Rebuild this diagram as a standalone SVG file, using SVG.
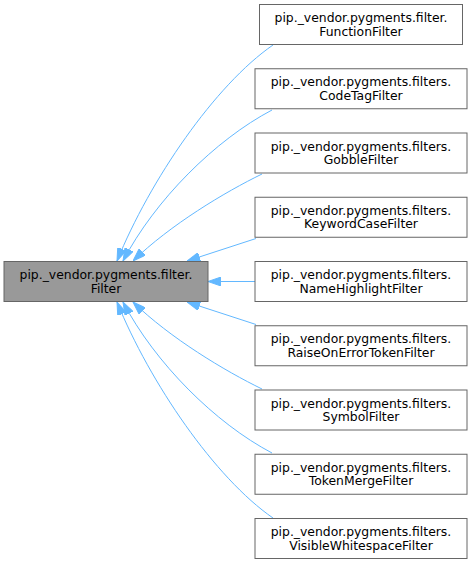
<svg xmlns="http://www.w3.org/2000/svg" width="472" height="563" viewBox="0 0 472 563">
<defs>
<style>
.node rect{fill:#ffffff;stroke:#666666;stroke-width:1}
.base rect{fill:#999999;stroke:#666666;stroke-width:1}
text{font-family:"DejaVu Sans","Liberation Sans",sans-serif;font-size:12.4px;fill:#000000;text-anchor:middle}
.edges path{fill:none;stroke:#63b8ff;stroke-width:1;marker-end:url(#ah)}
</style>
<marker id="ah" viewBox="0 0 13 9" refX="13" refY="4.5" markerWidth="13" markerHeight="9" markerUnits="userSpaceOnUse" orient="auto">
<path d="M0,0 L13,4.5 L0,9 Z" fill="#63b8ff" stroke="#63b8ff" stroke-width="1"/>
</marker>
</defs>
<rect width="472" height="563" fill="#ffffff"/>
<g class="edges" id="edges">
<path d="M273,45 C215,85 150,180 117,261"/>
<path d="M272,110 C215,140 155,200 123,261"/>
<path d="M262,174 C225,192 170,225 133,261"/>
<path d="M256,238.5 L187,261"/>
<path d="M255,281.5 L208,281.5"/>
<path d="M256,324.5 L187,302"/>
<path d="M262,389 C225,371 170,338 133,302"/>
<path d="M272,453 C215,423 155,363 123,302"/>
<path d="M273,518 C215,478 150,383 117,302"/>
</g>
<g class="base" id="Filter">
<rect x="4" y="261.5" width="204" height="40"/>
<text x="106" y="279">pip._vendor.pygments.filter.</text>
<text x="106" y="292.5">Filter</text>
</g>
<g class="node" id="FunctionFilter">
<rect x="259.5" y="4.5" width="203" height="40"/>
<text x="361" y="22">pip._vendor.pygments.filter.</text>
<text x="361" y="35.5">FunctionFilter</text>
</g>
<g class="node" id="CodeTagFilter">
<rect x="255" y="68.75" width="212" height="40"/>
<text x="361" y="86.25">pip._vendor.pygments.filters.</text>
<text x="361" y="99.75">CodeTagFilter</text>
</g>
<g class="node" id="GobbleFilter">
<rect x="255" y="133" width="212" height="40"/>
<text x="361" y="150.5">pip._vendor.pygments.filters.</text>
<text x="361" y="164">GobbleFilter</text>
</g>
<g class="node" id="KeywordCaseFilter">
<rect x="255" y="197.25" width="212" height="40"/>
<text x="361" y="214.75">pip._vendor.pygments.filters.</text>
<text x="361" y="228.25">KeywordCaseFilter</text>
</g>
<g class="node" id="NameHighlightFilter">
<rect x="255" y="261.5" width="212" height="40"/>
<text x="361" y="279">pip._vendor.pygments.filters.</text>
<text x="361" y="292.5">NameHighlightFilter</text>
</g>
<g class="node" id="RaiseOnErrorTokenFilter">
<rect x="255" y="325.75" width="212" height="40"/>
<text x="361" y="343.25">pip._vendor.pygments.filters.</text>
<text x="361" y="356.75">RaiseOnErrorTokenFilter</text>
</g>
<g class="node" id="SymbolFilter">
<rect x="255" y="390" width="212" height="40"/>
<text x="361" y="407.5">pip._vendor.pygments.filters.</text>
<text x="361" y="421">SymbolFilter</text>
</g>
<g class="node" id="TokenMergeFilter">
<rect x="255" y="454.25" width="212" height="40"/>
<text x="361" y="471.75">pip._vendor.pygments.filters.</text>
<text x="361" y="485.25">TokenMergeFilter</text>
</g>
<g class="node" id="VisibleWhitespaceFilter">
<rect x="255" y="518.5" width="212" height="40"/>
<text x="361" y="536">pip._vendor.pygments.filters.</text>
<text x="361" y="549.5">VisibleWhitespaceFilter</text>
</g>
</svg>
